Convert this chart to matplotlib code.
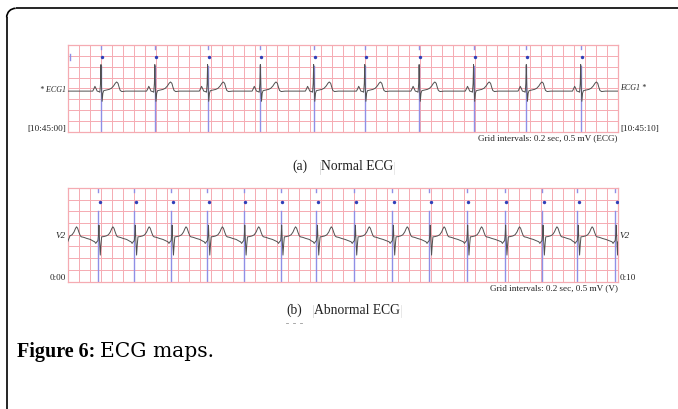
import numpy as np
import matplotlib
matplotlib.use("Agg")
import matplotlib.pyplot as plt
from matplotlib.patches import Arc

# ---------------- data ----------------
# (a) Normal ECG: beat (R-peak) times in seconds over a 10 s strip
normal_beats = [0.60, 1.58, 2.54, 3.50, 4.47, 5.40, 6.39, 7.38, 8.34, 9.33]
normal_baseline = 1.88  # mV
# one beat: offsets from R (s) and amplitude relative to baseline (mV)
normal_tpl_t = [-0.20, -0.15, -0.13, -0.11, -0.09, -0.07, -0.04, -0.02, -0.008, 0.0,
                0.010, 0.021, 0.034, 0.05, 0.10, 0.15, 0.19, 0.23, 0.26, 0.285,
                0.31, 0.33, 0.35, 0.38, 0.45]
normal_tpl_v = [0.0, 0.0, 0.10, 0.22, 0.12, 0.0, -0.02, -0.05, 0.35, 1.22,
                0.20, -0.47, -0.10, 0.02, 0.05, 0.08, 0.13, 0.24, 0.36, 0.42,
                0.36, 0.18, 0.03, -0.02, 0.0]

# (b) Abnormal ECG: beat annotation times (s)
abn_beats = [-0.11, 0.55, 1.21, 1.88, 2.54, 3.20, 3.87, 4.52, 5.21, 5.90,
             6.57, 7.25, 7.94, 8.62, 9.26, 9.95]
abn_baseline = 1.70  # mV
abn_tpl_t = [-0.08, -0.06, -0.04, -0.02, 0.0, 0.010, 0.018, 0.028, 0.042, 0.055,
             0.067, 0.10, 0.15, 0.19, 0.225, 0.25, 0.27, 0.29, 0.315, 0.34,
             0.36, 0.40, 0.46, 0.52]
abn_tpl_v = [0.02, 0.0, -0.07, 0.0, 0.05, 0.30, 0.71, 0.10, -0.57, -0.10,
             0.21, 0.22, 0.25, 0.30, 0.42, 0.56, 0.64, 0.58, 0.40, 0.25,
             0.21, 0.19, 0.14, 0.10]

grid_dt, grid_dv = 0.2, 0.5
strip_len, strip_mv = 10.0, 4.0

# ---------------- styles ----------------
W, H = 678, 409
PINK = "#f5abb2"
BLUE_LINE = "#8f8fe6"
BLUE_DOT = "#2f3fb8"
TRACE = "#505050"
SERIF = ["Liberation Serif", "DejaVu Serif"]

fig = plt.figure(figsize=(W / 100, H / 100), dpi=100)

# overlay in pixel coordinates for frame and texts
ov = fig.add_axes([0, 0, 1, 1], zorder=0)
ov.set_xlim(0, W)
ov.set_ylim(H, 0)
ov.axis("off")


def build_trace(beats, tpl_t, tpl_v, base):
    t = [0.0]
    v = [base]
    for b in beats:
        for dt, dv in zip(tpl_t, tpl_v):
            t.append(b + dt)
            v.append(base + dv)
    t.append(strip_len)
    v.append(base)
    t = np.array(t)
    v = np.array(v)
    order = np.argsort(t, kind="stable")
    return t[order], v[order]


def make_strip(rect_px, beats, tpl_t, tpl_v, base, line_top, dot_y, dot_dx):
    x0, y0, x1, y1 = rect_px
    ax = fig.add_axes([x0 / W, 1 - y1 / H, (x1 - x0) / W, (y1 - y0) / H], zorder=2)
    ax.set_xlim(0, strip_len)
    ax.set_ylim(0, strip_mv)
    ax.set_xticks(np.arange(0, strip_len + 1e-9, grid_dt))
    ax.set_yticks(np.arange(0, strip_mv + 1e-9, grid_dv))
    ax.grid(True, color=PINK, lw=0.7)
    ax.tick_params(length=0, labelbottom=False, labelleft=False)
    for s in ax.spines.values():
        s.set_color(PINK)
        s.set_linewidth(0.9)
    vis = [b for b in beats if 0 <= b <= strip_len]
    for b in vis:
        ax.plot([b, b], [0, line_top], color=BLUE_LINE, lw=1.0, zorder=2)
        ax.plot([b, b], [strip_mv - 0.18, strip_mv], color=BLUE_LINE, lw=1.0, zorder=2)
    ax.scatter([b + dot_dx for b in vis], [dot_y] * len(vis), s=6, color=BLUE_DOT, zorder=4,
               linewidths=0)
    t, v = build_trace(beats, tpl_t, tpl_v, base)
    ax.plot(t, v, color=TRACE, lw=0.7, zorder=3)
    return ax


ax1 = make_strip((68, 45, 617.5, 132), normal_beats, normal_tpl_t, normal_tpl_v,
                 normal_baseline, 3.05, 3.46, 0.02)
ax1.plot([0.03, 0.03], [3.3, 3.6], color=BLUE_LINE, lw=1.0)
ax2 = make_strip((67.7, 188, 618, 281.5), abn_beats, abn_tpl_t, abn_tpl_v,
                 abn_baseline, 3.0, 3.4, 0.03)

# ---------------- frame ----------------
r = 9
ov.plot([6.7 + r, W], [8.3, 8.3], color="black", lw=1.2, solid_capstyle="butt")
ov.plot([6.7, 6.7], [8.3 + r, H], color="black", lw=1.2, solid_capstyle="butt")
ov.add_patch(Arc((6.7 + r, 8.3 + r), 2 * r, 2 * r, theta1=180, theta2=270,
                 color="black", lw=1.2, transform=ov.transData))

# ---------------- texts ----------------
def t(x, y, s, size, ha="left", va="center", **kw):
    ov.text(x, y, s, fontsize=size, ha=ha, va=va, family=SERIF, color="#222222", **kw)

t(66, 90.5, "* ECG1", 5.8, ha="right", style="italic")
t(66, 129.5, "[10:45:00]", 6.6, ha="right")
t(620, 88.5, "ECG1 *", 5.8, style="italic")
t(620, 129, "[10:45:10]", 6.6)
t(617.5, 138.5, "Grid intervals: 0.2 sec, 0.5 mV (ECG)", 6.6, ha="right")
t(292, 166, "(a)", 9.8)
t(321, 166, "Normal ECG", 9.8)
ov.plot([319.5, 319.5], [161.5, 173.5], color="#d8d8d8", lw=0.6)
ov.plot([394, 394], [161.5, 173.5], color="#e4e4e4", lw=0.6)

t(65.5, 235.5, "V2", 6.6, ha="right", style="italic")
t(65.5, 278.5, "0:00", 6.6, ha="right")
t(620, 235.5, "V2", 6.6, style="italic")
t(620, 277.5, "0:10", 6.6)
t(618, 288.3, "Grid intervals: 0.2 sec, 0.5 mV (V)", 6.6, ha="right")
t(286, 310.7, "(b)", 9.8)
t(314.5, 310.7, "Abnormal ECG", 9.8)
ov.plot([313, 313], [305, 317], color="#d8d8d8", lw=0.6)
ov.plot([400.5, 400.5], [305, 317], color="#e4e4e4", lw=0.6)
for xd in (285.5, 292.5, 299.5):
    ov.plot([xd, xd + 2.5], [323.3, 323.3], color="#9a9a9a", lw=0.6)

ov.text(17, 356.7, "Figure 6:", fontsize=14.5, fontweight="bold",
        family=["Liberation Serif"], ha="left", va="baseline", color="black")
ov.text(99.5, 356.7, "ECG maps.", fontsize=14.6, family=["DejaVu Serif"],
        ha="left", va="baseline", color="black")

fig.savefig("out.png", dpi=100)
